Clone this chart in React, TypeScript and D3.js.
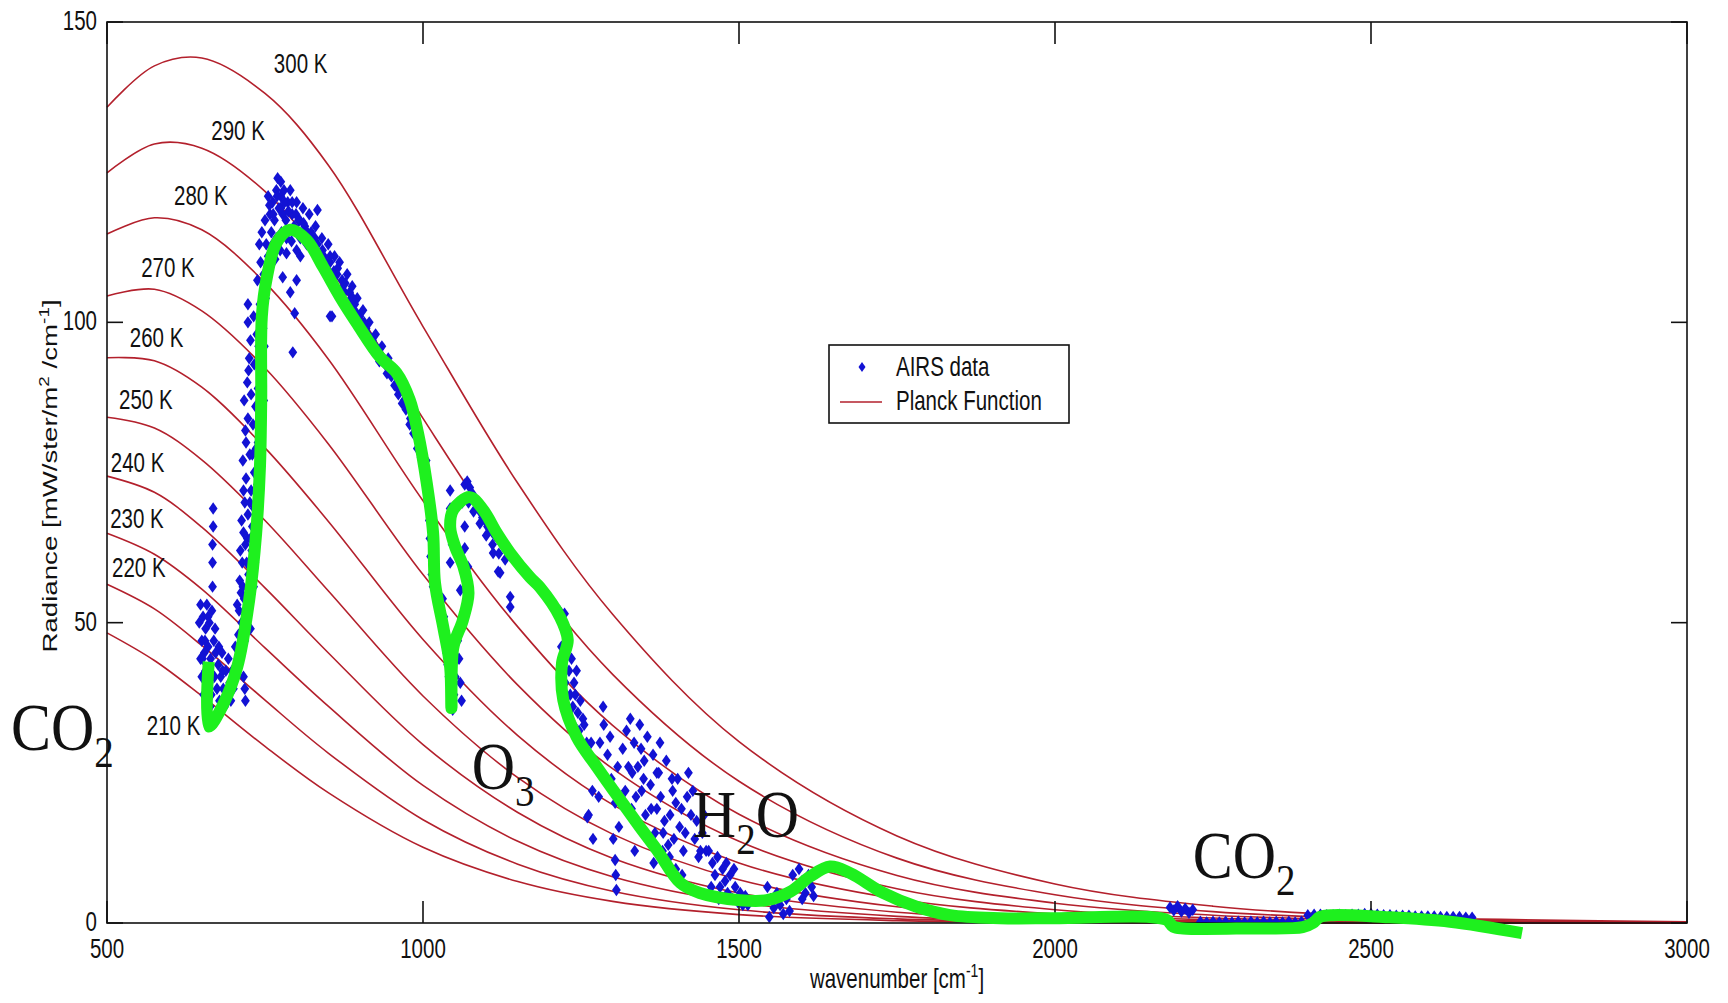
import React from "react";
import * as d3 from "d3";

// Planck curves, radiance in mW/ster/m2/cm-1
const planckWavenumbers = [500, 575, 650, 750, 850, 1000, 1150, 1300, 1500, 1750, 2000, 2250, 2500, 3000];
const planck300 = [135.8, 142.7, 144.0, 138.1, 126.2, 99.3, 73.2, 51.4, 30.2, 14.5, 6.5, 2.8, 1.15, 0.18];
const planck290 = [124.9, 129.7, 129.0, 121.8, 109.4, 84.0, 60.5, 41.4, 23.6, 10.8, 4.7, 1.9, 0.76, 0.11];
const planck280 = [114.7, 117.4, 115.4, 106.6, 93.9, 70.3, 49.3, 32.9, 18.1, 7.9, 3.3, 1.3, 0.49, 0.07];
const planck270 = [104.4, 105.5, 101.9, 92.4, 79.8, 58.0, 39.6, 25.7, 13.6, 5.7, 2.2, 0.84, 0.3, 0.04];
const planck260 = [94.1, 93.6, 89.2, 79.1, 66.9, 47.2, 31.2, 19.7, 10.0, 4.0, 1.5, 0.53, 0.18, 0.02];
const planck250 = [84.2, 82.4, 77.1, 67.0, 55.3, 37.8, 24.2, 14.8, 7.2, 2.7, 0.96, 0.32, 0.1, 0.01];
const planck240 = [74.4, 71.7, 65.9, 55.8, 45.0, 29.7, 18.4, 10.8, 5.0, 1.8, 0.59, 0.19, 0.06, 0.005];
const planck230 = [64.9, 61.4, 55.6, 45.8, 36.1, 22.9, 13.6, 7.7, 3.4, 1.1, 0.35, 0.1, 0.03, 0.002];
const planck220 = [56.4, 52.3, 46.2, 37.1, 28.3, 17.2, 9.8, 5.3, 2.2, 0.68, 0.2, 0.055, 0.015, 0.001];
const planck210 = [48.3, 43.7, 37.8, 29.4, 21.7, 12.6, 6.9, 3.6, 1.4, 0.4, 0.11, 0.027, 0.007, 0.0005];

const temperatures = [300, 290, 280, 270, 260, 250, 240, 230, 220, 210];
// where each "xxx K" label sits, [wavenumber, radiance]
const tempLabelAt = [
  [764, 141.5], [665, 130.3], [606, 119.5], [554, 107.5], [536, 95.9],
  [519, 85.6], [506, 75.1], [505, 65.8], [508, 57.6], [563, 31.3],
];

// AIRS spectrum, [wavenumber, radiance]
const co2Band = [
  [646, 50], [648, 53], [648, 44], [650, 47], [650, 41], [652, 51], [653, 38], [654, 45], [656, 49], [656, 42],
  [658, 53], [659, 37], [660, 46], [662, 40], [662, 50], [664, 44], [665, 38], [666, 52], [667, 56], [667, 60],
  [667, 63], [668, 66], [668, 69], [669, 47], [670, 41], [672, 45], [674, 39], [676, 43], [678, 37], [680, 41],
  [682, 45], [684, 39], [686, 36], [688, 42], [690, 38], [692, 44], [694, 40], [696, 37], [698, 42], [700, 39],
  [716, 41], [718, 39], [719, 37], [651, 44], [655, 47], [660, 51], [663, 36], [671, 49], [677, 46], [683, 42],
];
const risingWall = [
  [703, 46], [708, 48], [713, 50], [718, 47], [722, 52], [727, 49], [706, 53], [712, 55], [717, 54], [725, 55],
  [710, 57], [714, 60], [719, 63], [724, 58], [729, 62], [734, 60], [716, 65], [722, 64],
  [713, 67], [718, 70], [723, 68], [728, 72], [733, 69], [738, 73], [720, 74], [730, 66],
  [715, 77], [720, 80], [726, 78], [731, 83], [736, 79], [741, 84], [744, 76], [723, 84],
  [717, 87], [722, 90], [728, 88], [733, 93], [739, 89], [744, 94], [748, 87], [725, 94],
  [723, 100], [723, 103], [727, 97], [732, 101], [737, 98], [742, 103], [747, 99], [751, 104],
  [738, 107], [743, 110], [748, 108], [752, 113], [745, 115], [750, 117], [755, 111], [741, 113],
  [709, 52], [715, 56], [721, 60], [727, 64], [733, 75], [739, 80], [745, 90], [749, 96], [735, 86], [730, 78],
  [726, 70], [711, 62], [740, 96], [746, 102], [753, 107], [719, 82], [716, 72], [732, 56], [724, 92],
];
const windowPeak = [
  [755, 121], [758, 118], [760, 115], [762, 120], [765, 117], [768, 122], [770, 124], [772, 119], [775, 121], [778, 118],
  [780, 122], [783, 117], [786, 120], [790, 122], [793, 118], [796, 116], [800, 120], [803, 117], [806, 114], [810, 119],
  [813, 116], [816, 113], [820, 118], [823, 115], [826, 112], [830, 116], [833, 113], [836, 110], [840, 114], [843, 111],
  [846, 109], [850, 113], [853, 110], [856, 108], [860, 111], [864, 108], [868, 110], [872, 107], [876, 105], [880, 108],
  [884, 105], [888, 106], [892, 103], [896, 104], [900, 101], [905, 102], [910, 99], [915, 100], [920, 97], [925, 98],
  [930, 95], [935, 96], [940, 93], [945, 94], [950, 91], [955, 92], [960, 89], [965, 90], [970, 87], [975, 88],
  [980, 84], [985, 84], [990, 81], [995, 80], [1000, 78], [1003, 75],
  [757, 119.5], [763, 118], [769, 121], [775, 119], [781, 120], [787, 118.5], [793, 120], [799, 118], [805, 117], [811, 116.5],
  [817, 115], [823, 113], [829, 114], [835, 111.5], [841, 112], [847, 110], [853, 111], [859, 108.5], [865, 109], [871, 105.5],
  [877, 106.5], [883, 103.5], [889, 104], [895, 101.5], [901, 99.5], [907, 100], [913, 98], [919, 95.5], [925, 96], [931, 93.5],
  [937, 94], [943, 91.5], [949, 92], [955, 89.5], [961, 88], [967, 86.5], [973, 85.5], [979, 83], [985, 81.5], [991, 79], [997, 77.5],
  [762, 113], [768, 114], [776, 115], [784, 114], [792, 113.5], [806, 111], [766, 110.5],
  [778, 107.5], [790, 105], [800, 107], [797, 101.5], [794, 95], [856, 101], [774, 112], [800, 112], [784, 111.5],
  [833, 118.7], [853, 101], [775, 123.4],
];
const ozoneBand = [
  [1005, 77], [1007, 73], [1009, 70], [1010, 67], [1011, 64], [1012, 61], [1014, 58], [1016, 56], [1031, 54], [1033, 51],
  [1035, 48], [1037, 45], [1039, 43], [1041, 41], [1043, 39], [1045, 37], [1047, 35.5], [1049, 38], [1051, 41], [1053, 44],
  [1055, 47], [1057, 44], [1059, 40], [1061, 37], [1043, 72], [1043, 69], [1043, 60], [1046, 63],
  [1062, 70], [1066, 73], [1070, 73.5], [1074, 72.5], [1078, 71.5], [1082, 70.5], [1086, 69.5], [1090, 68.5], [1094, 67.5], [1098, 67],
  [1102, 66], [1106, 65.5], [1110, 65], [1114, 64.5], [1118, 64], [1122, 63.5], [1126, 63], [1130, 62.5], [1134, 62], [1138, 61.5],
  [1072, 70], [1080, 68.5], [1090, 66.5], [1100, 64.5], [1110, 63], [1120, 61.5], [1130, 60.5],
  [1066, 66], [1066, 62.4], [1059, 55.4], [1071, 59.3], [1111, 61.6], [1122, 58.3], [1138, 54.3], [1138, 52.6], [1119, 58.5],
];
const waterBand = [
  [1216, 52], [1220, 50], [1224, 51.5], [1228, 48], [1219, 46], [1223, 44], [1227, 46], [1231, 42], [1235, 44], [1239, 40],
  [1225, 40], [1233, 38], [1237, 36], [1241, 38], [1245, 35], [1249, 37], [1253, 34], [1243, 42], [1247, 32], [1251, 30],
  [1255, 33], [1259, 30], [1263, 28], [1229, 36], [1238, 33],
  [1262, 18], [1268, 22], [1274, 26], [1280, 30], [1286, 33], [1292, 28], [1298, 24], [1304, 20], [1310, 16], [1316, 29],
  [1322, 32], [1328, 34], [1334, 30], [1340, 26], [1346, 22], [1352, 18], [1358, 14], [1364, 28], [1370, 25], [1376, 21],
  [1382, 17], [1388, 13], [1394, 24], [1400, 20], [1406, 16], [1412, 12], [1418, 21], [1424, 18], [1430, 14], [1436, 11],
  [1442, 15], [1448, 12], [1320, 22], [1330, 19], [1340, 16], [1350, 27], [1360, 23], [1370, 19], [1380, 15], [1390, 11],
  [1400, 9], [1410, 8], [1355, 31], [1345, 29], [1335, 12], [1365, 10], [1375, 30], [1385, 27], [1395, 22], [1420, 25],
  [1269, 14], [1301, 14], [1304, 10.5], [1305, 8], [1306, 5.5], [1285, 36], [1260, 17.6],
  [1266, 30], [1272, 27], [1278, 21], [1290, 24], [1296, 31], [1308, 26], [1313, 21], [1325, 26], [1337, 21], [1349, 24],
  [1361, 19], [1367, 15], [1373, 25], [1379, 12], [1391, 18], [1397, 14], [1403, 24], [1409, 19], [1415, 15], [1427, 22],
  [1433, 17], [1439, 12], [1445, 18], [1343, 33], [1331, 25],
  [1452, 12], [1458, 10], [1462, 8], [1466, 11], [1470, 6], [1474, 9], [1478, 7], [1482, 5], [1486, 8], [1490, 4],
  [1494, 6], [1498, 3.5], [1502, 5], [1506, 3], [1510, 4.5], [1514, 3], [1456, 6], [1468, 4], [1480, 10], [1492, 9],
  [1545, 6], [1550, 4], [1555, 2.5], [1560, 5], [1565, 3], [1570, 1.5], [1575, 4], [1580, 2], [1548, 1],
  [1585, 8], [1590, 6], [1595, 9], [1600, 7], [1605, 5], [1610, 8], [1615, 6], [1618, 4.5], [1600, 4],
];
const shortwaveBand = [
  [2182, 2.6], [2188, 2.1], [2194, 2.8], [2200, 1.9], [2206, 2.4], [2212, 1.7], [2218, 2.2],
  [2230, 0.2], [2240, 0.1], [2250, 0.2], [2260, 0.1], [2270, 0.2], [2280, 0.1], [2290, 0.2], [2300, 0.1], [2310, 0.2],
  [2320, 0.1], [2330, 0.2], [2340, 0.1], [2350, 0.2], [2360, 0.1], [2370, 0.2], [2380, 0.1], [2390, 0.2],
  [2400, 1.3], [2410, 1.4], [2420, 1.4], [2430, 1.3], [2440, 1.3], [2450, 1.4], [2460, 1.3], [2470, 1.4], [2480, 1.4],
  [2490, 1.5], [2500, 1.5], [2510, 1.4], [2520, 1.3], [2530, 1.3], [2540, 1.2], [2550, 1.2], [2560, 1.2], [2570, 1.1],
  [2580, 1.1], [2590, 1.1], [2600, 1.1], [2610, 1.0], [2620, 1.0], [2630, 1.0], [2640, 1.0], [2650, 0.9], [2660, 0.9],
];

// hand drawn green outline, [wavenumber, radiance]
const greenTrace = [
  [661, 43.5], [661, 32.7], [682, 36], [706, 42.6], [725, 53.8], [736, 64.9], [742, 75.9], [744, 87], [745, 101],
  [753, 107.5], [768, 113.2], [790, 115.4], [816, 113.7], [842, 109.2], [869, 104.2], [895, 99.9], [932, 94.2],
  [958, 91.6], [979, 87.1], [992, 81.6], [1006, 73.2], [1016, 64.9], [1019, 56.6], [1032, 49.3], [1043, 42.6],
  [1045, 35.8], [1048, 45.9], [1063, 50.4], [1072, 54.9], [1064, 59.3], [1051, 62.6], [1043, 65.9], [1048, 68.8],
  [1074, 70.9], [1095, 68.8], [1117, 64.9], [1138, 61.6], [1169, 57.6], [1185, 55.9], [1217, 50.9], [1229, 47.1],
  [1220, 43.3], [1222, 37.1], [1243, 31], [1275, 26], [1312, 20.5], [1343, 16], [1370, 12.2], [1407, 6.7],
  [1438, 5], [1502, 3.8], [1544, 3.8], [1581, 5.2], [1612, 7.7], [1644, 9.4], [1676, 8.3], [1728, 5],
  [1781, 2.7], [1834, 1.3], [1913, 0.8], [1992, 0.8], [2150, 1], [2177, 0.5], [2187, -0.6], [2203, -0.9],
  [2309, -0.9], [2392, -0.7], [2408, 0], [2419, 1], [2440, 1.3], [2519, 1], [2625, 0.2], [2739, -1.7],
];

// gas labels: main text, subscript, anchor [wavenumber, radiance]
const gasLabels = [
  { main: "CO", sub: "2", tail: "", at: [348, 28.8] },
  { main: "O", sub: "3", tail: "", at: [1077, 22.3] },
  { main: "H", sub: "2", tail: "O", at: [1427, 14.3] },
  { main: "CO", sub: "2", tail: "", at: [2218, 7.5] },
];

const W = 1728;
const H = 1003;
const SANS = "'Liberation Sans', Arial, Helvetica, sans-serif";
const SERIF = "'Liberation Serif', 'Times New Roman', Times, serif";
const SY = 1.35; // the figure's text is stretched vertically

const Label = ({ x, y, size = 20.5, anchor = "start", sy = SY, family = SANS, rotate = 0, children }: any) => (
  <text
    transform={`translate(${x},${y}) scale(1,${sy})${rotate ? ` rotate(${rotate})` : ""}`}
    fontSize={size}
    fontFamily={family}
    textAnchor={anchor}
    fill="#111"
  >
    {children}
  </text>
);

export default function App() {
  const x = d3.scaleLinear().domain([500, 3000]).range([107, 1687]);
  const y = d3.scaleLinear().domain([0, 150]).range([923, 22]);

  const planckSeries = [planck300, planck290, planck280, planck270, planck260, planck250, planck240, planck230, planck220, planck210];
  const planckLine = d3
    .line<number>()
    .x((_, i) => x(planckWavenumbers[i]))
    .y(d => y(d))
    .curve(d3.curveCatmullRom.alpha(0.5));

  const traceLine = d3
    .line<number[]>()
    .x(d => x(d[0]))
    .y(d => y(d[1]))
    .curve(d3.curveCatmullRom.alpha(0.5));

  const airs = [...co2Band, ...risingWall, ...windowPeak, ...ozoneBand, ...waterBand, ...shortwaveBand];
  const marker = "M0,-6.2L4.4,0L0,6.2L-4.4,0Z";
  const legendMarker = "M0,-5L3.5,0L0,5L-3.5,0Z";
  const blue = "#1212d4";
  const red = "#b3202c";

  const [x0, x1] = x.range();
  const [y0, y1] = y.range();

  return (
    <svg width={W} height={H} style={{ position: "absolute", left: 0, top: 0, background: "#fff" }}>
      <rect x={0} y={0} width={W} height={H} fill="#fff" />

      {/* Planck curves */}
      <g fill="none" stroke={red} strokeWidth={1.6}>
        {planckSeries.map((s, i) => (
          <path key={temperatures[i]} d={planckLine(s) || ""} />
        ))}
      </g>

      {/* temperature labels */}
      {temperatures.map((t, i) => (
        <Label key={t} x={x(tempLabelAt[i][0])} y={y(tempLabelAt[i][1])}>
          {`${t} K`}
        </Label>
      ))}

      {/* AIRS data */}
      <g fill={blue}>
        {airs.map((d, i) => (
          <path key={i} d={marker} transform={`translate(${x(d[0])},${y(d[1])})`} />
        ))}
      </g>

      {/* frame and ticks */}
      <g stroke="#111" strokeWidth={1.6} fill="none">
        <rect x={x0} y={y1} width={x1 - x0} height={y0 - y1} />
        {x.ticks(5).map(t => (
          <g key={t}>
            <line x1={x(t)} x2={x(t)} y1={y0} y2={y0 - 22} />
            <line x1={x(t)} x2={x(t)} y1={y1} y2={y1 + 22} />
          </g>
        ))}
        {y.ticks(3).map(t => (
          <g key={t}>
            <line x1={x0} x2={x0 + 16} y1={y(t)} y2={y(t)} />
            <line x1={x1} x2={x1 - 16} y1={y(t)} y2={y(t)} />
          </g>
        ))}
      </g>
      {x.ticks(5).map(t => (
        <Label key={t} x={x(t)} y={958} anchor="middle">
          {t}
        </Label>
      ))}
      {y.ticks(3).map(t => (
        <Label key={t} x={97} y={y(t) + 8} anchor="end">
          {t}
        </Label>
      ))}

      {/* axis titles */}
      <Label x={897} y={988} anchor="middle">
        wavenumber [cm<tspan dy={-8} fontSize={14}>-1</tspan>
        <tspan dy={8}>]</tspan>
      </Label>
      <Label x={57} y={476} anchor="middle" rotate={-90}>
        Radiance [mW/ster/m<tspan dy={-8} fontSize={14}>2</tspan>
        <tspan dy={8}> /cm</tspan>
        <tspan dy={-8} fontSize={14}>-1</tspan>
        <tspan dy={8}>]</tspan>
      </Label>

      {/* legend */}
      <rect x={829} y={345} width={240} height={78} fill="#fff" stroke="#111" strokeWidth={1.6} />
      <path d={legendMarker} transform="translate(862,367)" fill={blue} />
      <line x1={840} x2={882} y1={402} y2={402} stroke={red} strokeWidth={1.6} />
      <Label x={896} y={376}>AIRS data</Label>
      <Label x={896} y={410}>Planck Function</Label>

      {/* green hand-drawn outline */}
      <path
        d={traceLine(greenTrace) || ""}
        fill="none"
        stroke="#1ef01e"
        strokeWidth={12}
        strokeLinejoin="round"
        strokeLinecap="butt"
      />

      {/* gas labels */}
      {gasLabels.map((g, i) => (
        <Label key={i} x={x(g.at[0])} y={y(g.at[1])} size={60} sy={1.12} family={SERIF}>
          {g.main}
          <tspan fontSize={39} dy={15}>{g.sub}</tspan>
          {g.tail ? <tspan dy={-15}>{g.tail}</tspan> : null}
        </Label>
      ))}
    </svg>
  );
}
